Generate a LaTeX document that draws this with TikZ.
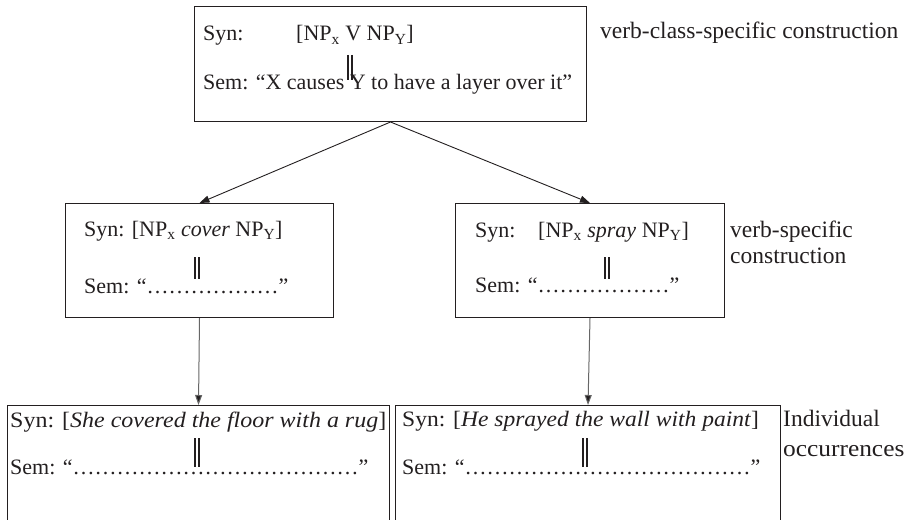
\documentclass[tikz,border=0pt]{standalone}
\usepackage{graphicx}
\usepackage{fontspec}
\setmainfont{Liberation Serif}
\usetikzlibrary{arrows.meta}
\definecolor{ink}{HTML}{231F20}
\newcommand\sbx[1]{\textsubscript{#1}}
\begin{document}
\begin{tikzpicture}[x=1pt,y=-1pt,
  box/.style={draw=ink, line width=1pt, rectangle, inner sep=0pt, anchor=north west},
  txt/.style={inner sep=0pt, anchor=base west, text=ink, font=\fontsize{22}{26}\selectfont},
  lab/.style={txt, font=\fontsize{23.5}{28}\selectfont},
  conn/.style={draw=ink, line width=0.9pt, -{Triangle[length=10pt,width=7pt]}},
  vconn/.style={draw=black!60, line width=1pt, -{Triangle[length=10pt,width=7pt,fill=ink]}},
  bar/.style={draw=ink, line width=1.2pt}]
\useasboundingbox (0,0) rectangle (909,519);
\clip (0,0) rectangle (909,519);
% boxes
\node[box, minimum width=392, minimum height=115] (top) at (194,6) {};
\node[box, minimum width=268, minimum height=114] (ml) at (65,203) {};
\node[box, minimum width=269, minimum height=114] (mr) at (455,203) {};
\node[box, minimum width=382, minimum height=140] (bl) at (7,405) {};
\node[box, minimum width=385, minimum height=140] (br) at (395,405) {};
% top box text
\node[txt] (t1) at (203,41) {Syn:};
\node[txt] (t2) at (296,41) {[NP\sbx{x} V NP\sbx{Y}]};
\node[txt] (t3) at (203,89) {Sem: “X causes Y to have a layer over it”};
\draw[bar] (348,55) -- (348,80) (352,55) -- (352,80);
\node[lab] (lab1) at (600,38) {verb-class-specific construction};
% middle left
\node[txt] (ml1) at (84,236) {Syn: [NP\sbx{x} \textit{cover} NP\sbx{Y}]};
\node[txt] (ml2) at (84,293) {Sem: “………………”};
\draw[bar] (195,257) -- (195,279) (199,257) -- (199,279);
% middle right
\node[txt] (mr1) at (475,237) {Syn:};
\node[txt] (mr2) at (538,237) {[NP\sbx{x} \textit{spray} NP\sbx{Y}]};
\node[txt] (mr3) at (475,292) {Sem: “………………”};
\draw[bar] (605,257) -- (605,279) (609,257) -- (609,279);
\node[lab] (lab2) at (730,237) {verb-specific};
\node[lab] (lab3) at (730,263) {construction};
% bottom left
\node[txt] (bl1) at (10,427) {\scalebox{1.09}[1]{Syn: [\textit{She covered the floor with a rug}]}};
\node[txt] (bl2) at (10,474) {Sem: “…………………………………”};
\draw[bar] (195,438) -- (195,467) (199,438) -- (199,467);
% bottom right
\node[txt] (br1) at (402,426) {\scalebox{1.07}[1]{Syn: [\textit{He sprayed the wall with paint}]}};
\node[txt] (br2) at (402,474) {Sem: “…………………………………”};
\draw[bar] (583,438) -- (583,467) (587,438) -- (587,467);
\node[lab] (lab4) at (783,426) {Individual};
\node[lab] (lab5) at (783,456) {\scalebox{1.08}[1]{occurrences}};
% connectors
\draw[conn] (top.south) -- (ml.north);
\draw[conn] (top.south) -- (mr.north);
\draw[vconn] (ml.south) -- (bl.north);
\draw[vconn] (mr.south) -- (br.north);
\end{tikzpicture}
\end{document}
